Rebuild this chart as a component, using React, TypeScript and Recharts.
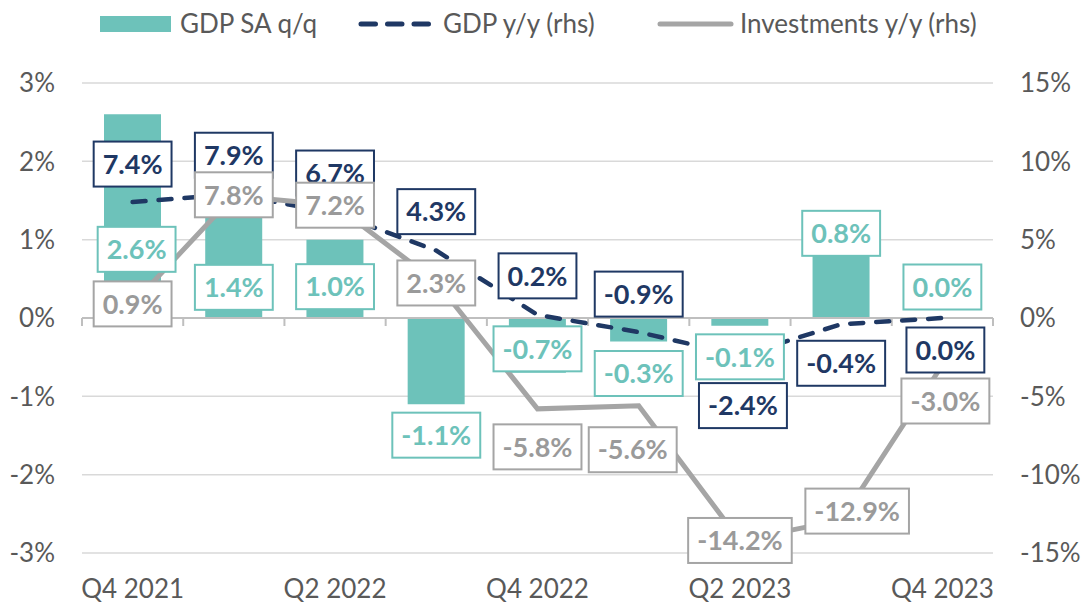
import { Bar, CartesianGrid, ComposedChart, LabelList, Line, ReferenceLine, XAxis, YAxis } from "recharts";

const quarters = ["Q4 2021", "Q1 2022", "Q2 2022", "Q3 2022", "Q4 2022", "Q1 2023", "Q2 2023", "Q3 2023", "Q4 2023"];
const gdpQoQ = [2.6, 1.4, 1.0, -1.1, -0.7, -0.3, -0.1, 0.8, 0.0];
const gdpYoY = [7.4, 7.9, 6.7, 4.3, 0.2, -0.9, -2.4, -0.4, 0.0];
const investYoY = [0.9, 7.8, 7.2, 2.3, -5.8, -5.6, -14.2, -12.9, -3.0];

const leftTicks = [-3, -2, -1, 0, 1, 2, 3];
const rightTicks = [-15, -10, -5, 0, 5, 10, 15];

// where each label box sits relative to its point, [dx, dy] in px
const qoqShift = [[4, 135], [0, 79], [0, 47], [0, 31], [0, -24], [0, 32], [0, 31], [0, -22], [0, -31]];
const yoyShift = [[0, -38], [0, -39], [0, -40], [0, -39], [0, -39], [0, -38], [3, 50], [0, 39], [3, 32]];
const invShift = [[0, 0], [0, -1], [0, 0], [0, 1], [0, 38], [-6, 44], [0, 0], [16, -9], [3, 36]];

const data = quarters.map((quarter, i) => ({
  quarter,
  gdpQoQ: gdpQoQ[i],
  gdpYoY: gdpYoY[i],
  investYoY: investYoY[i],
}));

const TEAL = "#6DC2BA";
const NAVY = "#1F3864";
const GRAY = "#A5A5A5";
const TEXT = "#595959";
const FONT = "Lato, sans-serif";
const LABEL_SIZE = 27;
const LABEL_FONT = `bold ${LABEL_SIZE}px Lato`;

let ctx: CanvasRenderingContext2D | null = null;
function measure(s: string) {
  if (!ctx && typeof document !== "undefined") ctx = document.createElement("canvas").getContext("2d");
  if (!ctx) return s.length * 15;
  ctx.font = LABEL_FONT;
  return ctx.measureText(s).width;
}

function boxLabel(border: string, textColor: string, shifts: number[][]) {
  return (props: any) => {
    const vb = props.viewBox || {};
    const px = props.x ?? vb.x;
    const py = props.y ?? vb.y;
    if (px == null || py == null) return null;
    const [dx, dy] = shifts[props.index] || [0, 0];
    const text = `${Number(props.value).toFixed(1)}%`;
    const w = measure(text) + 18;
    const h = 45;
    const cx = px + dx;
    const cy = py + dy;
    return (
      <g>
        <rect x={cx - w / 2} y={cy - h / 2} width={w} height={h} fill="#fff" stroke={border} strokeWidth={2} />
        <text x={cx} y={cy} dy="0.36em" textAnchor="middle" fill={textColor} fontFamily={FONT} fontWeight={700} fontSize={LABEL_SIZE}>
          {text}
        </text>
      </g>
    );
  };
}

function ZeroAxis(props: any) {
  const { x1, x2, y1 } = props;
  const step = (x2 - x1) / quarters.length;
  return (
    <g>
      <line x1={x1} x2={x2} y1={y1} y2={y1} stroke="#BFBFBF" strokeWidth={2} />
      {Array.from({ length: quarters.length + 1 }, (_, i) => (
        <line key={i} x1={x1 + i * step} x2={x1 + i * step} y1={y1} y2={y1 + 8} stroke="#BFBFBF" strokeWidth={2} />
      ))}
    </g>
  );
}

const tickStyle = { fill: TEXT, fontSize: 26, fontFamily: FONT };

export default function App() {
  return (
    <div style={{ position: "absolute", left: 0, top: 0, width: 1086, height: 603, background: "#fff" }}>
      <svg width={1086} height={50} style={{ position: "absolute", left: 0, top: 0 }}>
        <rect x={100} y={16} width={71} height={16} fill={TEAL} />
        <text x={180} y={33} fill={TEXT} fontFamily={FONT} fontSize={26}>GDP SA q/q</text>
        <line x1={361} x2={432} y1={24} y2={24} stroke={NAVY} strokeWidth={5} strokeLinecap="round" strokeDasharray="14.5 12" />
        <text x={443} y={33} fill={TEXT} fontFamily={FONT} fontSize={26}>GDP y/y (rhs)</text>
        <line x1={660} x2={731} y1={24} y2={24} stroke={GRAY} strokeWidth={5} strokeLinecap="round" />
        <text x={740} y={33} fill={TEXT} fontFamily={FONT} fontSize={26}>Investments y/y (rhs)</text>
      </svg>
      <ComposedChart width={1086} height={603} data={data} margin={{ top: 83, right: 0, bottom: 0, left: 0 }}>
        <CartesianGrid yAxisId="left" vertical={false} stroke="#D9D9D9" strokeWidth={1.5} />
        <XAxis dataKey="quarter" interval={1} axisLine={false} tickLine={false} tickSize={0} tickMargin={27} height={50} tick={tickStyle} />
        <YAxis
          yAxisId="left"
          domain={[-3, 3]}
          ticks={leftTicks}
          tickFormatter={(v) => `${v}%`}
          axisLine={false}
          tickLine={false}
          tickSize={0}
          tickMargin={27}
          width={82}
          tick={tickStyle}
        />
        <YAxis
          yAxisId="right"
          orientation="right"
          domain={[-15, 15]}
          ticks={rightTicks}
          tickFormatter={(v) => `${v}%`}
          axisLine={false}
          tickLine={false}
          tickSize={0}
          tickMargin={27}
          width={93}
          tick={tickStyle}
        />
        <Bar yAxisId="left" dataKey="gdpQoQ" fill={TEAL} barSize={57} isAnimationActive={false} />
        <ReferenceLine yAxisId="left" y={0} shape={ZeroAxis} />
        <Line
          yAxisId="right"
          dataKey="gdpYoY"
          stroke={NAVY}
          strokeWidth={4.5}
          strokeDasharray="13 13"
          strokeLinecap="round"
          dot={false}
          activeDot={false}
          isAnimationActive={false}
        />
        <Line yAxisId="right" dataKey="investYoY" stroke={GRAY} strokeWidth={5} dot={false} activeDot={false} isAnimationActive={false} />
        {/* label-only series so every box sits above all lines */}
        <Line yAxisId="right" dataKey="gdpYoY" stroke="none" dot={false} activeDot={false} isAnimationActive={false}>
          <LabelList dataKey="gdpYoY" content={boxLabel(NAVY, NAVY, yoyShift)} />
        </Line>
        <Line yAxisId="left" dataKey="gdpQoQ" stroke="none" dot={false} activeDot={false} isAnimationActive={false}>
          <LabelList dataKey="gdpQoQ" content={boxLabel(TEAL, TEAL, qoqShift)} />
        </Line>
        <Line yAxisId="right" dataKey="investYoY" stroke="none" dot={false} activeDot={false} isAnimationActive={false}>
          <LabelList dataKey="investYoY" content={boxLabel(GRAY, "#9A9A9A", invShift)} />
        </Line>
      </ComposedChart>
    </div>
  );
}
